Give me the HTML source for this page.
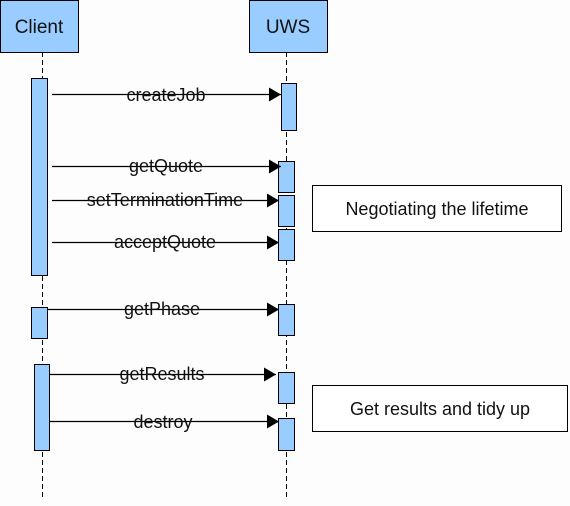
<!DOCTYPE html>
<html><head><meta charset="utf-8"><style>
html,body{margin:0;padding:0;background:#fdfdfd;}
svg{display:block;}
text{font-family:"Liberation Sans",Arial,sans-serif;fill:#111;}
</style></head><body>
<svg width="570" height="506" viewBox="0 0 570 506" xmlns="http://www.w3.org/2000/svg">
<defs>
<marker id="ah" markerWidth="12" markerHeight="14" refX="12" refY="7" orient="auto" markerUnits="userSpaceOnUse">
<path d="M0,0 L12,7 L0,14 Z" fill="#000"/>
</marker>
</defs>
<line x1="42.5" y1="52" x2="42.5" y2="500" stroke="#000" stroke-width="1" stroke-dasharray="5,3"/>
<line x1="286.5" y1="52" x2="286.5" y2="500" stroke="#000" stroke-width="1" stroke-dasharray="5,3"/>
<rect x="0.5" y="0.5" width="78" height="52" fill="#99ccff" stroke="#000"/>
<text x="39" y="33" font-size="19" text-anchor="middle">Client</text>
<rect x="249.5" y="0.5" width="78" height="52" fill="#99ccff" stroke="#000"/>
<text x="288" y="33" font-size="19" text-anchor="middle">UWS</text>
<rect x="31.5" y="78.5" width="16" height="197" fill="#99ccff" stroke="#000"/>
<rect x="31.5" y="307.5" width="16" height="31" fill="#99ccff" stroke="#000"/>
<rect x="34.5" y="364.5" width="15" height="86" fill="#99ccff" stroke="#000"/>
<rect x="281.5" y="83.5" width="15" height="47" fill="#99ccff" stroke="#000"/>
<rect x="278.5" y="161.5" width="16" height="31" fill="#99ccff" stroke="#000"/>
<rect x="278.5" y="195.5" width="16" height="31" fill="#99ccff" stroke="#000"/>
<rect x="278.5" y="229.5" width="16" height="31" fill="#99ccff" stroke="#000"/>
<rect x="278.5" y="304.5" width="16" height="31" fill="#99ccff" stroke="#000"/>
<rect x="278.5" y="372.5" width="16" height="31" fill="#99ccff" stroke="#000"/>
<rect x="278.5" y="418.5" width="16" height="32" fill="#99ccff" stroke="#000"/>
<g stroke="#000" stroke-width="1.2" marker-end="url(#ah)">
<line x1="52" y1="94.5" x2="281" y2="94.5"/>
<line x1="52" y1="166.5" x2="281" y2="166.5"/>
<line x1="52" y1="200.5" x2="279" y2="200.5"/>
<line x1="52" y1="242.5" x2="279" y2="242.5"/>
<line x1="48" y1="309.5" x2="279" y2="309.5"/>
<line x1="50" y1="374.5" x2="276" y2="374.5"/>
<line x1="50" y1="421.5" x2="279" y2="421.5"/>
</g>
<g font-size="18" text-anchor="middle">
<text x="166" y="101">createJob</text>
<text x="166" y="172">getQuote</text>
<text x="165" y="206">setTerminationTime</text>
<text x="165" y="248">acceptQuote</text>
<text x="162" y="315">getPhase</text>
<text x="162" y="380">getResults</text>
<text x="163" y="428">destroy</text>
</g>
<rect x="312.5" y="185.5" width="249" height="46" fill="#fff" stroke="#000"/>
<text x="437" y="215" font-size="18" text-anchor="middle">Negotiating the lifetime</text>
<rect x="312.5" y="385.5" width="255" height="46" fill="#fff" stroke="#000"/>
<text x="440" y="415" font-size="18" text-anchor="middle">Get results and tidy up</text>
</svg>
</body></html>
